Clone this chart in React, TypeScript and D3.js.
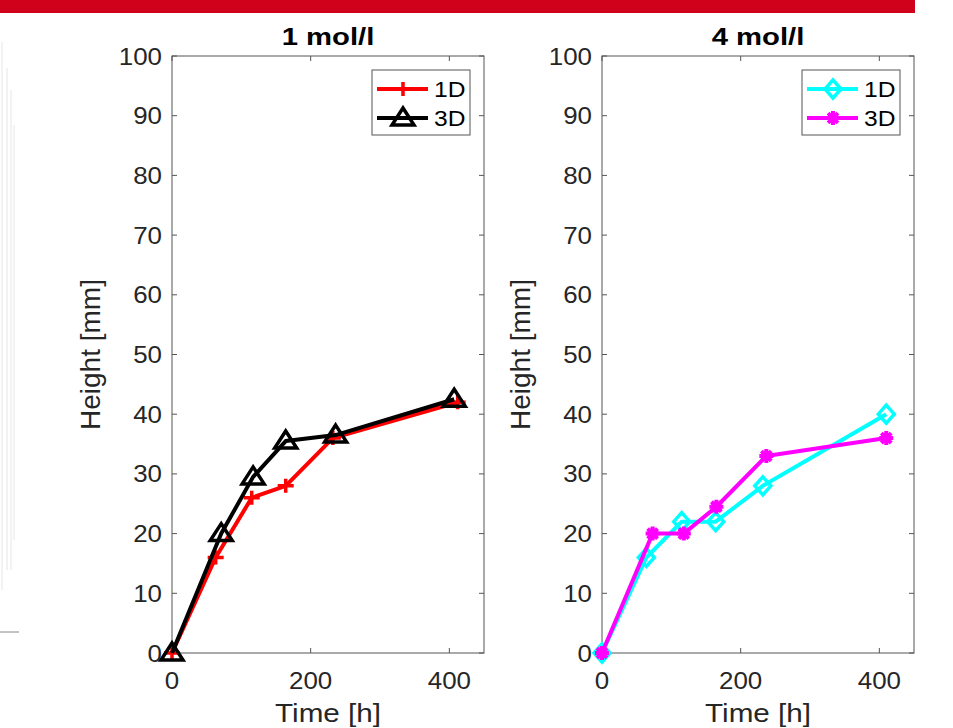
import React, { useEffect, useRef } from "react";
import * as d3 from "d3";

// 1 mol/l
const time1D_1 = [0, 63, 115, 164, 232, 412];
const height1D_1 = [0, 16, 26, 28, 36, 42];
const time3D_1 = [0, 71, 117, 164, 236, 407];
const height3D_1 = [0, 20, 29.5, 35.5, 36.5, 42.5];

// 4 mol/l
const time1D_4 = [0, 64, 115, 164, 232, 410];
const height1D_4 = [0, 16, 22, 22, 28, 40];
const time3D_4 = [0, 73, 118, 165, 237, 410];
const height3D_4 = [0, 20, 20, 24.5, 33, 36];

const xTicks = [0, 200, 400];
const yTicks = [0, 10, 20, 30, 40, 50, 60, 70, 80, 90, 100];

const FONT = "Liberation Sans, Arial, sans-serif";

type Series = { name: string; xs: number[]; ys: number[]; color: string; marker: string };

// the source picture is a bit stretched sideways, so text gets a horizontal scale
function label(g: any, x: number, y: number, txt: string, size: number, anchor: string, sx: number, fill = "#262626", weight = "normal") {
  return g.append("text").attr("transform", `translate(${x},${y}) scale(${sx},1)`)
    .attr("text-anchor", anchor).attr("font-family", FONT).attr("font-size", size)
    .attr("font-weight", weight).attr("fill", fill).text(txt);
}

function drawMarker(g: any, kind: string, x: number, y: number, color: string) {
  if (kind === "plus") {
    g.append("path").attr("d", `M${x - 8},${y}H${x + 8}M${x},${y - 7}V${y + 7}`)
      .attr("stroke", color).attr("stroke-width", 3.5).attr("fill", "none");
  } else if (kind === "triangle") {
    g.append("path").attr("d", `M${x},${y - 10}L${x + 11},${y + 7}L${x - 11},${y + 7}Z`)
      .attr("stroke", color).attr("stroke-width", 3.5).attr("fill", "none");
  } else if (kind === "diamond") {
    g.append("path").attr("d", `M${x},${y - 9}L${x + 8},${y}L${x},${y + 9}L${x - 8},${y}Z`)
      .attr("stroke", color).attr("stroke-width", 3.5).attr("fill", "none");
  } else if (kind === "star") {
    const r = 7;
    let d = "";
    for (let i = 0; i < 4; i++) {
      const a = (i * Math.PI) / 4;
      d += `M${x - r * Math.cos(a)},${y - r * Math.sin(a)}L${x + r * Math.cos(a)},${y + r * Math.sin(a)}`;
    }
    g.append("path").attr("d", d).attr("stroke", color).attr("stroke-width", 4).attr("fill", "none");
  }
}

function drawPanel(svg: any, left: number, right: number, title: string, series: Series[]) {
  const top = 56, bottom = 653;
  const x = d3.scaleLinear().domain([0, 450]).range([left, right]);
  const y = d3.scaleLinear().domain([0, 100]).range([bottom, top]);
  const g = svg.append("g");

  g.append("rect").attr("x", left).attr("y", top).attr("width", right - left).attr("height", bottom - top)
    .attr("fill", "none").attr("stroke", "#555").attr("stroke-width", 1);

  yTicks.forEach((t) => {
    g.append("line").attr("x1", left).attr("x2", left + 5).attr("y1", y(t)).attr("y2", y(t)).attr("stroke", "#555");
    g.append("line").attr("x1", right).attr("x2", right - 5).attr("y1", y(t)).attr("y2", y(t)).attr("stroke", "#555");
    label(g, left - 10, y(t) + 8.5, String(t), 24, "end", 1.08);
  });
  xTicks.forEach((t) => {
    g.append("line").attr("x1", x(t)).attr("x2", x(t)).attr("y1", bottom).attr("y2", bottom - 5).attr("stroke", "#555");
    g.append("line").attr("x1", x(t)).attr("x2", x(t)).attr("y1", top).attr("y2", top + 5).attr("stroke", "#555");
    label(g, x(t), 689, String(t), 24, "middle", 1.08);
  });

  const cx = (left + right) / 2;
  label(g, cx, 45, title, 24, "middle", 1.22, "#000", "bold");
  label(g, cx, 722, "Time [h]", 26, "middle", 1.14);
  g.append("text").attr("transform", `translate(${left - 72},${(top + bottom) / 2}) rotate(-90)`)
    .attr("text-anchor", "middle").attr("font-family", FONT).attr("font-size", 28).attr("fill", "#262626")
    .text("Height [mm]");

  const line = d3.line<[number, number]>().x((d) => x(d[0])).y((d) => y(d[1]));
  series.forEach((s) => {
    const pts: [number, number][] = s.xs.map((v, i) => [v, s.ys[i]]);
    g.append("path").attr("d", line(pts)).attr("fill", "none").attr("stroke", s.color)
      .attr("stroke-width", 4).attr("stroke-linejoin", "round");
    pts.forEach((p) => drawMarker(g, s.marker, x(p[0]), y(p[1]), s.color));
  });

  const lx = right - 112, ly = 70;
  g.append("rect").attr("x", lx).attr("y", ly).attr("width", 98).attr("height", 65)
    .attr("fill", "#fff").attr("stroke", "#555").attr("stroke-width", 1);
  series.forEach((s, i) => {
    const yy = ly + 19 + i * 29;
    g.append("line").attr("x1", lx + 5).attr("x2", lx + 56).attr("y1", yy).attr("y2", yy)
      .attr("stroke", s.color).attr("stroke-width", 4);
    drawMarker(g, s.marker, lx + 31, yy, s.color);
    label(g, lx + 62, yy + 8, s.name, 22, "start", 1.12, "#000");
  });
}

export default function App() {
  const ref = useRef<SVGSVGElement>(null);
  useEffect(() => {
    const svg = d3.select(ref.current);
    svg.selectAll("*").remove();
    svg.append("rect").attr("x", 0).attr("y", 0).attr("width", 953).attr("height", 728).attr("fill", "#fff");
    svg.append("rect").attr("x", 0).attr("y", 0).attr("width", 915).attr("height", 13).attr("fill", "#d0021b");

    // faint remnants of a previous figure on the left edge
    const faint = svg.append("g").attr("stroke", "#e6e6e6").attr("fill", "none");
    [[2, 42, 590], [7, 68, 570], [11, 90, 570], [14, 125, 540]].forEach(([xx, y0, y1]) => {
      faint.append("line").attr("x1", xx).attr("x2", xx).attr("y1", y0).attr("y2", y1);
    });
    svg.append("line").attr("x1", 0).attr("x2", 19).attr("y1", 632).attr("y2", 632).attr("stroke", "#888");

    drawPanel(svg, 172, 484, "1 mol/l", [
      { name: "1D", xs: time1D_1, ys: height1D_1, color: "#ff0000", marker: "plus" },
      { name: "3D", xs: time3D_1, ys: height3D_1, color: "#000000", marker: "triangle" },
    ]);
    drawPanel(svg, 602, 914, "4 mol/l", [
      { name: "1D", xs: time1D_4, ys: height1D_4, color: "#00ffff", marker: "diamond" },
      { name: "3D", xs: time3D_4, ys: height3D_4, color: "#ff00ff", marker: "star" },
    ]);
  }, []);
  return (
    <svg ref={ref} width={953} height={728}
      style={{ position: "absolute", left: 0, top: 0, display: "block" }} />
  );
}
